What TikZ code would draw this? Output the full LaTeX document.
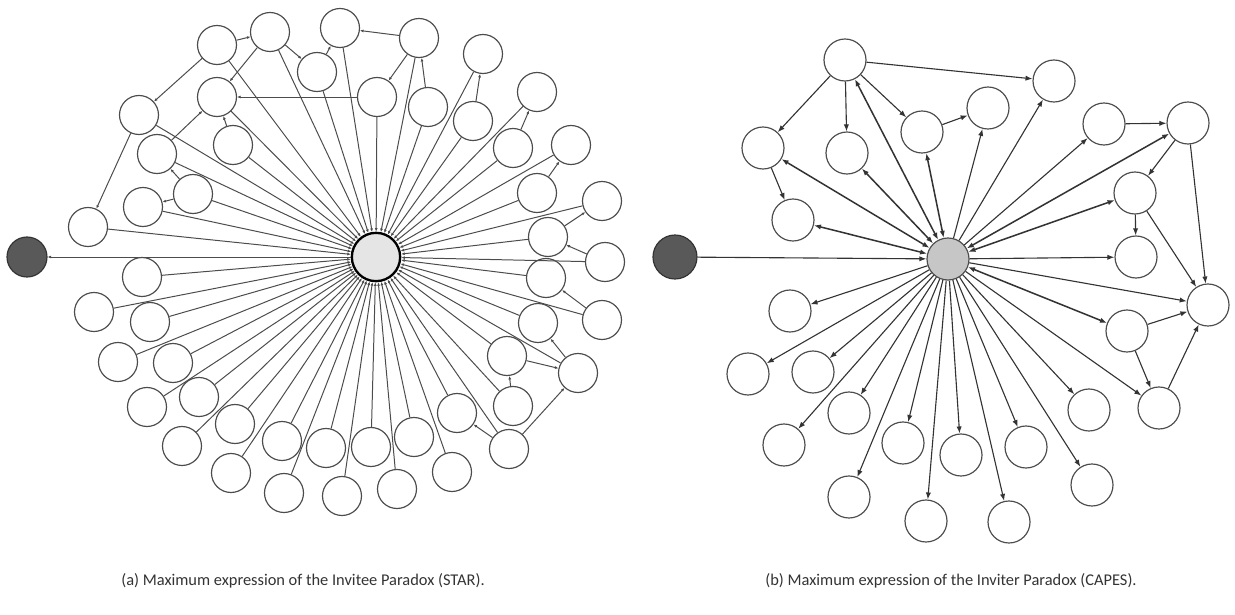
\documentclass[tikz,border=0pt]{standalone}
\usepackage{fontspec}
\setmainfont{Carlito}
\usetikzlibrary{arrows.meta,positioning}

\begin{document}
\begin{tikzpicture}
  [x=0.03cm, y=-0.03cm,
  wnode/.style={circle,draw=black!70,fill=white,line width=1pt,inner sep=0pt,minimum size=1.17cm},
  bnode/.style={wnode,minimum size=1.26cm},
  seed/.style={circle,draw=black!80,fill=black!65,line width=1pt,inner sep=0pt},
  spoke/.style={draw=black!70,line width=0.85pt,-{Latex[length=3pt,width=2.5pt]}},
  arc/.style={draw=black!80,line width=0.95pt,-{Latex[length=6pt,width=4.5pt]}},
  both/.style={arc,line width=1.3pt,{Latex[length=6pt,width=4.5pt]}-{Latex[length=6pt,width=4.5pt]}},
 ]
  \tikzstyle{caption}=[text=black!80,font=\fontsize{14}{16}\selectfont]
  \useasboundingbox (0,0) rectangle (1235,614);

% (a) STAR
\node[seed,minimum size=1.2cm] (aseed) at (27,257) {};
\node[circle,draw=black,fill=gray!20,line width=2pt,inner sep=0pt,minimum size=1.45cm] (ahub) at (376,257) {};
\foreach \n/\x/\y in {1/217/45, 2/270/32, 3/340/28, 4/419/38, 5/317/72, 6/483/54,
  7/217/97, 8/377/97, 9/428/107, 10/537/92, 11/139/115, 12/473/121, 13/233/145,
  14/157/154, 15/571/145, 16/513/148, 17/193/194, 18/143/207, 19/537/193,
  20/602/201, 21/88/227, 22/548/237, 23/605/262, 24/546/278, 25/142/277,
  26/94/312, 27/150/322, 28/602/320, 29/538/323, 30/118/362, 31/173/363,
  32/507/356, 33/578/373, 34/147/407, 35/199/397, 36/235/424, 37/513/406,
  38/182/446, 39/282/441, 40/326/448, 41/371/447, 42/414/437, 43/457/413,
  44/509/449, 45/231/473, 46/284/493, 47/342/496, 48/397/489, 49/452/472}
  \node[wnode] (a\n) at (\x,\y) {};
\foreach \n in {1,...,49}
  \draw[spoke] (a\n) -- (ahub);
\draw[spoke] (ahub) -- (aseed);
\foreach \s/\t in {1/2, 2/5, 1/11, 11/21, 14/7, 2/7, 13/7, 8/7, 17/14, 17/18,
  4/3, 5/3, 4/8, 9/4, 12/6, 16/10, 19/15, 22/20, 23/22, 28/24, 33/29, 32/33,
  37/32, 44/33, 44/43}
  \draw[spoke] (a\s) -- (a\t);

% (b) CAPES
\node[seed,minimum size=1.32cm] (bseed) at (675,257) {};
\node[bnode,fill=gray!45] (bhub) at (948,259) {};
\foreach \n/\x/\y in {1/845/60, 2/763/148, 3/847/153, 4/922/132, 5/793/220,
  6/988/108, 7/1054/81, 8/1104/124, 9/1188/123, 10/1135/193, 11/1136/257,
  12/1208/305, 13/1127/331, 14/1159/408, 15/1089/410, 16/1026/447, 17/961/455,
  18/1092/485, 19/1009/522, 20/926/521, 21/790/311, 22/748/374, 23/813/372,
  24/849/413, 25/784/445, 26/903/443, 27/849/497}
  \node[bnode] (b\n) at (\x,\y) {};
\draw[arc] (bseed) -- (bhub);
\foreach \n in {6,7,8,11,12,14,15,16,17,18,19,20,21,22,23,24,25,26,27}
  \draw[arc] (bhub) -- (b\n);
\foreach \n in {1,2,3,4,5,9,10,13}
  \draw[both] (bhub) -- (b\n);
\foreach \s/\t in {1/7, 1/2, 1/3, 1/4, 2/5, 4/6, 8/9, 9/10, 10/11, 10/12,
  9/12, 13/12, 13/14, 14/12}
  \draw[arc] (b\s) -- (b\t);

% captions
\node[caption] (capa) at (303,581) {(a) Maximum expression of the Invitee Paradox (STAR).};
\node[caption] (capb) at (951,581) {(b) Maximum expression of the Inviter Paradox (CAPES).};
\end{tikzpicture}
\end{document}
